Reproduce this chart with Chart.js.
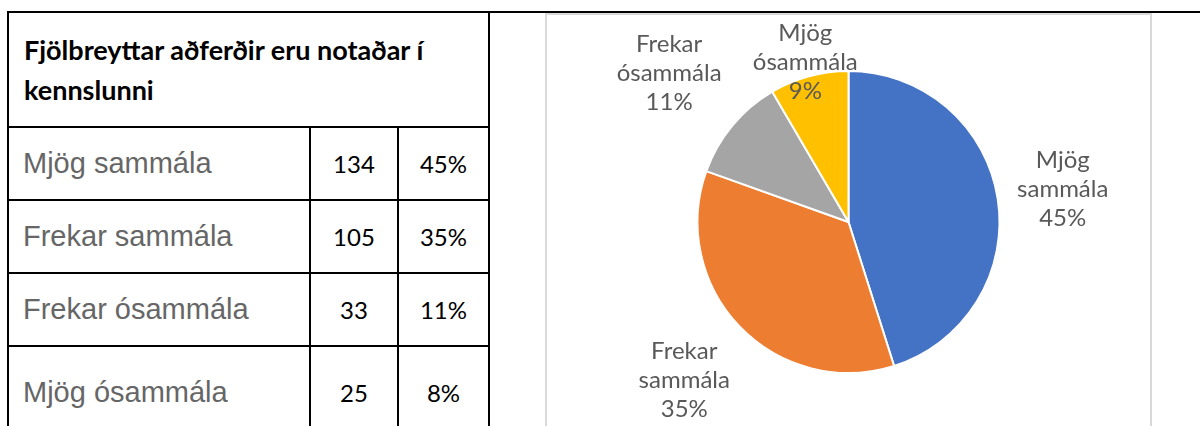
<!DOCTYPE html>
<html>
<head>
<meta charset="utf-8">
<script src="https://cdn.jsdelivr.net/npm/chart.js@4/dist/chart.umd.min.js"></script>
<style>
  html, body { margin: 0; padding: 0; background: #fff; }
  body { width: 1200px; height: 426px; position: relative; overflow: hidden; }
  #topline { position: absolute; left: 7px; top: 11px; width: 1193px; height: 2px; background: #000; }
  #tbl { position: absolute; left: 7px; top: 11px; border-collapse: collapse; table-layout: fixed; }
  #tbl td { border: 2px solid #000; padding: 0; vertical-align: middle; }
  #tbl .head { height: 113px; padding-left: 15px; font: bold 27px Lato, sans-serif; line-height: 40px; color: #000; }
  #tbl .cat { padding-left: 14px; font: 29px "Liberation Sans", Arial, sans-serif; color: #666; }
  #tbl .num { text-align: center; font: 24px Lato, sans-serif; color: #000; }
  #tbl tr.row td { height: 71px; }
  #tbl tr.last td { height: 90px; }
  #frame { position: absolute; left: 545px; top: 13px; width: 603px; height: 420px; border: 2px solid #d9d9d9; }
  #pie { position: absolute; left: 547px; top: 15px; }
</style>
</head>
<body>
<div id="topline"></div>
<table id="tbl">
  <colgroup><col style="width:302px"><col style="width:88px"><col style="width:91px"></colgroup>
  <tbody id="tbody"></tbody>
</table>
<div id="frame"></div>
<canvas id="pie" width="603" height="411"></canvas>
<script>
const tableTitle = "Fjölbreyttar aðferðir eru notaðar í kennslunni";
const categories = ["Mjög sammála", "Frekar sammála", "Frekar ósammála", "Mjög ósammála"];
const counts = [134, 105, 33, 25];
const tablePercents = ["45%", "35%", "11%", "8%"];
const chartPercents = ["45%", "35%", "11%", "9%"];
const sliceColors = ["#4472c4", "#ed7d31", "#a5a5a5", "#ffc000"];

const LABEL_FONT = "24px Lato, sans-serif";
const LINE_H = 29;
const GAP = 14;
const MIN_TOP = 4;

function buildTable() {
  const tbody = document.getElementById("tbody");
  let html = '<tr><td class="head" colspan="3">' + tableTitle + "</td></tr>";
  categories.forEach((cat, i) => {
    const cls = i === categories.length - 1 ? "last" : "row";
    html += '<tr class="' + cls + '"><td class="cat">' + cat + '</td><td class="num">' +
      counts[i] + '</td><td class="num">' + tablePercents[i] + "</td></tr>";
  });
  tbody.innerHTML = html;
}

// Excel-style "outside end" labels, pushed back inside when they hit the top
const outsideLabels = {
  id: "outsideLabels",
  afterDatasetsDraw(chart) {
    const ctx = chart.ctx;
    const meta = chart.getDatasetMeta(0);
    ctx.save();
    ctx.font = LABEL_FONT;
    ctx.fillStyle = "#595959";
    ctx.textAlign = "center";
    ctx.textBaseline = "middle";
    meta.data.forEach((arc, i) => {
      const lines = categories[i].split(" ").concat(chartPercents[i]);
      const w = Math.max(...lines.map((l) => ctx.measureText(l).width));
      const h = lines.length * LINE_H;
      const mid = (arc.startAngle + arc.endAngle) / 2;
      const dx = Math.cos(mid), dy = Math.sin(mid);
      const support = Math.abs(dx) * w / 2 + Math.abs(dy) * h / 2;
      let t = arc.outerRadius + GAP + support;
      if (arc.y + dy * t - h / 2 < MIN_TOP && dy < 0) {
        t = (MIN_TOP + h / 2 - arc.y) / dy;
      }
      const cx = arc.x + dx * t;
      const cy = arc.y + dy * t;
      lines.forEach((line, k) => {
        ctx.fillText(line, cx, cy - h / 2 + LINE_H * (k + 0.5));
      });
    });
    ctx.restore();
  },
};

function renderPie() {
  const ctx = document.getElementById("pie").getContext("2d");
  new Chart(ctx, {
    type: "pie",
    data: {
      labels: categories,
      datasets: [{
        data: counts,
        backgroundColor: sliceColors,
        borderColor: "#ffffff",
        borderWidth: 2,
      }],
    },
    options: {
      responsive: false,
      animation: false,
      layout: { padding: { top: 55, bottom: 52, left: 0, right: 0 } },
      plugins: { legend: { display: false }, tooltip: { enabled: false } },
    },
    plugins: [outsideLabels],
  });
}

buildTable();
document.fonts.load(LABEL_FONT).then(renderPie, renderPie);
</script>
</body>
</html>
